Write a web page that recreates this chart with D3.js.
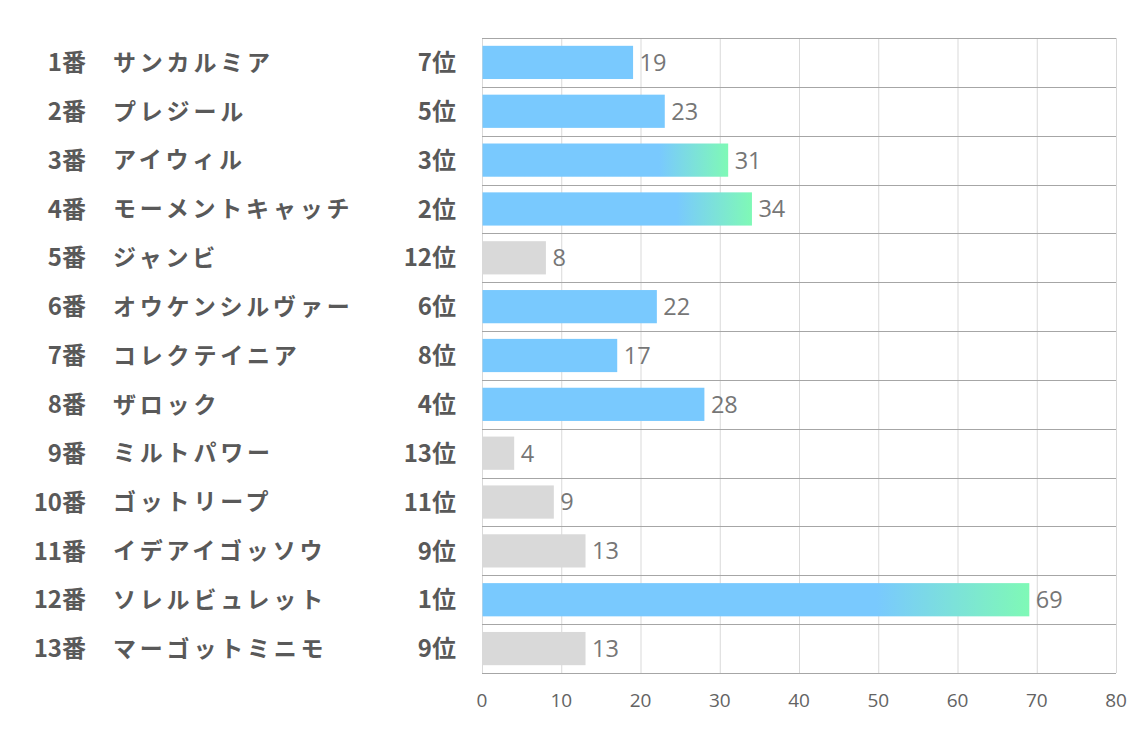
<meta charset="utf-8">
<html>
<head>
<style>
  body { margin: 0; background: #fff; }
  text { font-family: "Noto Sans CJK JP", "Noto Sans", sans-serif; }
</style>
</head>
<body>
<div id="chart"></div>
<script src="https://d3js.org/d3.v7.min.js"></script>
<script>
// data
var numbers = ["1番", "2番", "3番", "4番", "5番", "6番", "7番", "8番", "9番", "10番", "11番", "12番", "13番"];
var horses = ["サンカルミア", "プレジール", "アイウィル", "モーメントキャッチ", "ジャンビ", "オウケンシルヴァー",
              "コレクテイニア", "ザロック", "ミルトパワー", "ゴットリープ", "イデアイゴッソウ", "ソレルビュレット", "マーゴットミニモ"];
var ranks = ["7位", "5位", "3位", "2位", "12位", "6位", "8位", "4位", "13位", "11位", "9位", "1位", "9位"];
var rankNum = [7, 5, 3, 2, 12, 6, 8, 4, 13, 11, 9, 1, 9];
var values = [19, 23, 31, 34, 8, 22, 17, 28, 4, 9, 13, 69, 13];
var xTicks = [0, 10, 20, 30, 40, 50, 60, 70, 80];

var W = 1134, H = 737;
var margin = {top: 38, right: 18, bottom: 64, left: 482};
var width = W - margin.left - margin.right,
    height = H - margin.top - margin.bottom;

var svg = d3.select("#chart").append("svg")
    .attr("width", W).attr("height", H);

var defs = svg.append("defs");
var grad = defs.append("linearGradient").attr("id", "win")
    .attr("x1", "0%").attr("x2", "100%").attr("y1", "0%").attr("y2", "0%");
grad.append("stop").attr("offset", "72%").attr("stop-color", "#79c9fe");
grad.append("stop").attr("offset", "100%").attr("stop-color", "#7ff9b6");

var g = svg.append("g").attr("transform", "translate(" + margin.left + "," + margin.top + ")");

var x = d3.scaleLinear().domain([0, 80]).range([0, width]);
var y = d3.scaleBand().domain(d3.range(numbers.length)).range([0, height]).paddingInner(0.32).paddingOuter(0.16);
var rows = d3.scaleBand().domain(d3.range(numbers.length)).range([0, height]);

// vertical grid
g.selectAll(".vgrid").data(xTicks).enter().append("line")
    .attr("x1", function(d) { return x(d) + 0.5; })
    .attr("x2", function(d) { return x(d) + 0.5; })
    .attr("y1", 0).attr("y2", height)
    .attr("stroke", "#d9d9d9").attr("stroke-width", 1);

// horizontal row lines
g.selectAll(".hgrid").data(d3.range(numbers.length + 1)).enter().append("line")
    .attr("x1", 0).attr("x2", width)
    .attr("y1", function(d) { return Math.round(d * rows.step()) + 0.5; })
    .attr("y2", function(d) { return Math.round(d * rows.step()) + 0.5; })
    .attr("stroke", "#a6a6a6").attr("stroke-width", 1);

// bars
g.selectAll(".bar").data(values).enter().append("rect")
    .attr("x", x(0) + 0.5)
    .attr("y", function(d, i) { return y(i); })
    .attr("width", function(d) { return x(d) - x(0); })
    .attr("height", y.bandwidth())
    .attr("fill", function(d, i) {
        if (rankNum[i] <= 3) return "url(#win)";
        if (rankNum[i] <= 8) return "#79c9fe";
        return "#d9d9d9";
    });

// value labels
g.selectAll(".val").data(values).enter().append("text")
    .attr("x", function(d) { return x(d) + 7; })
    .attr("y", function(d, i) { return rows(i) + rows.bandwidth() / 2; })
    .attr("dy", "0.36em")
    .attr("font-size", 23.5)
    .attr("fill", "#767676")
    .style("font-family", "'Open Sans', 'Noto Sans', sans-serif")
    .text(function(d) { return d; });

// axis tick labels
g.selectAll(".tick").data(xTicks).enter().append("text")
    .attr("x", function(d) { return x(d); })
    .attr("y", height + 27)
    .attr("dy", "0.36em")
    .attr("text-anchor", "middle")
    .attr("font-size", 19)
    .attr("fill", "#636363")
    .style("font-family", "'Open Sans', 'Noto Sans', sans-serif")
    .text(function(d) { return d; });

// left labels
var lab = svg.append("g").attr("transform", "translate(0," + margin.top + ")");
lab.selectAll(".num").data(numbers).enter().append("text")
    .attr("x", 86)
    .attr("y", function(d, i) { return rows(i) + rows.bandwidth() / 2; })
    .attr("dy", "0.36em")
    .attr("text-anchor", "end")
    .attr("font-size", 24).attr("font-weight", "bold")
    .attr("fill", "#595959")
    .text(function(d) { return d; });

lab.selectAll(".name").data(horses).enter().append("text")
    .attr("x", 113)
    .attr("y", function(d, i) { return rows(i) + rows.bandwidth() / 2; })
    .attr("dy", "0.36em")
    .attr("font-size", 23).attr("font-weight", "bold")
    .attr("letter-spacing", 3.8)
    .attr("fill", "#595959")
    .text(function(d) { return d; });

lab.selectAll(".rank").data(ranks).enter().append("text")
    .attr("x", 456)
    .attr("y", function(d, i) { return rows(i) + rows.bandwidth() / 2; })
    .attr("dy", "0.36em")
    .attr("text-anchor", "end")
    .attr("font-size", 24).attr("font-weight", "bold")
    .attr("fill", "#595959")
    .text(function(d) { return d; });
</script>
</body>
</html>
